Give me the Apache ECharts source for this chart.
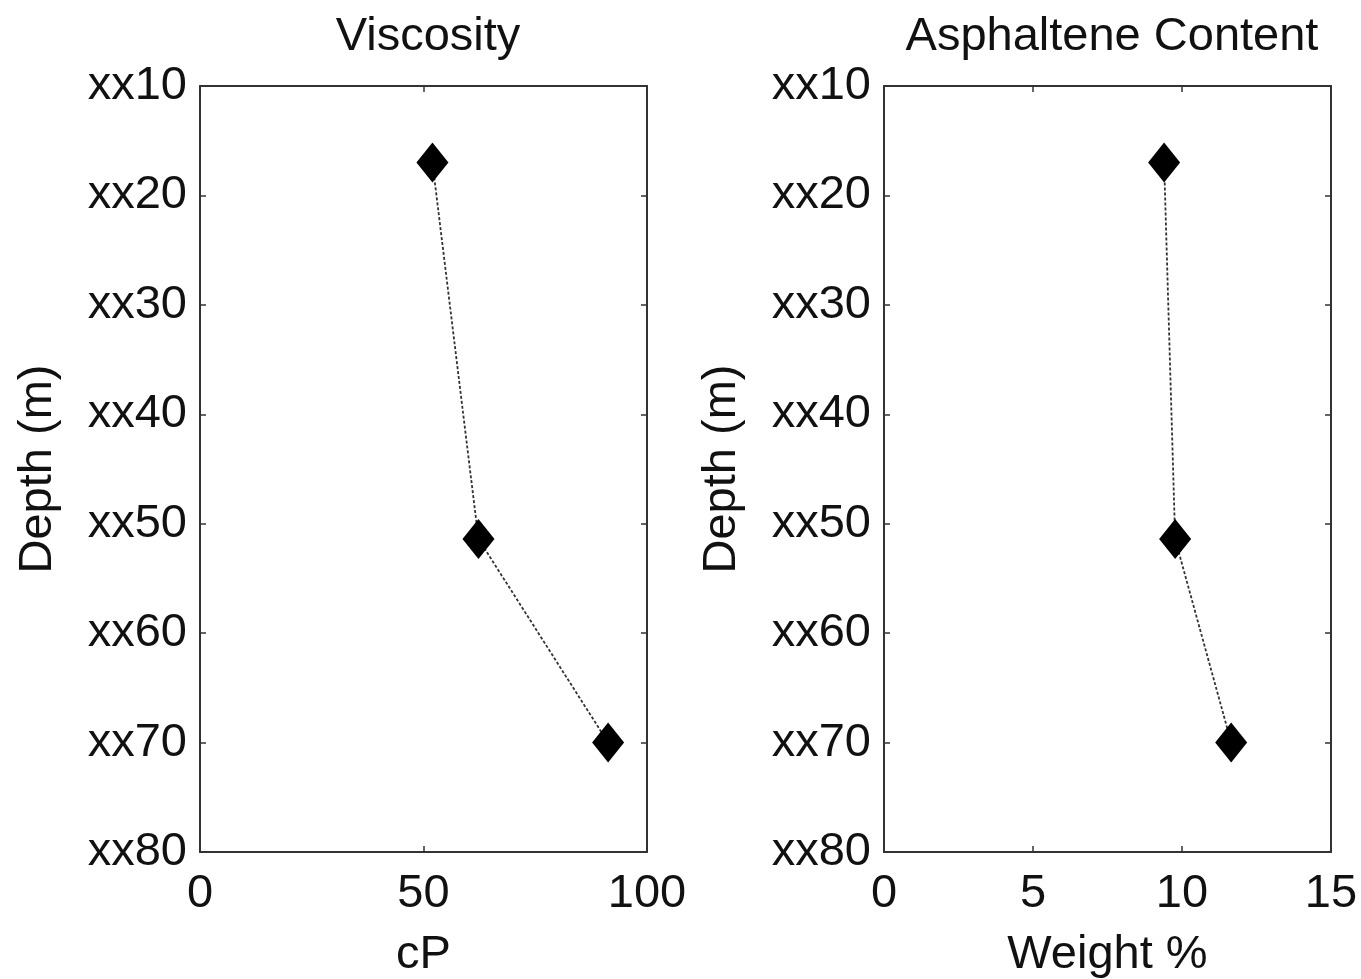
<!DOCTYPE html>
<html style="height: 100%">
<head>
<meta charset="utf-8">
</head>
<body style="height: 100%; margin: 0; background: #fff">
<div id="container" style="width:1361px;height:979px;"></div>
<script src="https://cdn.jsdelivr.net/npm/echarts@6/dist/echarts.min.js"></script>
<script type="text/javascript">
// depths are the "xx" offsets in metres
var depth = [17, 51.4, 70];
var viscosity = [52, 62.3, 91.3];
var asphaltene = [9.4, 9.77, 11.65];
var depthTicks = [10, 20, 30, 40, 50, 60, 70, 80];
var viscTicks = [0, 50, 100];
var asphTicks = [0, 5, 10, 15];

var myChart = echarts.init(document.getElementById('container'));
var font = 'Liberation Sans, Arial, sans-serif';
var axisCol = '#333';
var fs = 47;

function pairs(xs, ys) {
    var out = [];
    for (var i = 0; i < xs.length; i++) out.push([xs[i], ys[i]]);
    return out;
}

function xAx(grid, ticks, name, show) {
    return {
        type: 'value', gridIndex: grid, position: show ? 'bottom' : 'top',
        min: ticks[0], max: ticks[ticks.length - 1], interval: ticks[1] - ticks[0],
        name: show ? name : '', nameLocation: 'middle', nameGap: 80,
        nameTextStyle: {fontFamily: font, fontSize: fs, color: '#111'},
        axisLine: {show: true, onZero: false, lineStyle: {color: axisCol, width: 2}},
        axisTick: {show: true, inside: true, length: 6, lineStyle: {color: axisCol, width: 1.5}},
        axisLabel: {show: show, fontFamily: font, fontSize: fs, color: '#111', margin: 19},
        splitLine: {show: false}
    };
}

function yAx(grid, show) {
    return {
        type: 'value', gridIndex: grid, position: show ? 'left' : 'right', inverse: true,
        min: depthTicks[0], max: depthTicks[depthTicks.length - 1], interval: 10,
        name: show ? 'Depth (m)' : '', nameLocation: 'middle', nameGap: 138, nameRotate: 90,
        nameTextStyle: {fontFamily: font, fontSize: fs, color: '#111'},
        axisLine: {show: true, onZero: false, lineStyle: {color: axisCol, width: 2}},
        axisTick: {show: true, inside: true, length: 6, lineStyle: {color: axisCol, width: 1.5}},
        axisLabel: {show: show, fontFamily: font, fontSize: fs, color: '#111', margin: 13,
            formatter: function (v) { return 'xx' + v; }},
        splitLine: {show: false}
    };
}

function series(grid, xs) {
    return {
        type: 'line', xAxisIndex: grid * 2, yAxisIndex: grid * 2,
        data: pairs(xs, depth),
        symbol: 'diamond', symbolSize: [32, 40],
        itemStyle: {color: '#000'},
        lineStyle: {color: '#333', width: 1.8, type: [3, 2]},
        animation: false
    };
}

var option = {
    title: [
        {text: 'Viscosity', left: 423, top: 9, textAlign: 'center',
            textStyle: {fontFamily: font, fontSize: fs, fontWeight: 'normal', color: '#111'}},
        {text: 'Asphaltene Content', left: 1107, top: 9, textAlign: 'center',
            textStyle: {fontFamily: font, fontSize: fs, fontWeight: 'normal', color: '#111'}}
    ],
    grid: [
        {left: 200, top: 86, width: 447, height: 766, outerBoundsMode: 'none', containLabel: false},
        {left: 884, top: 86, width: 447, height: 766, outerBoundsMode: 'none', containLabel: false}
    ],
    xAxis: [
        xAx(0, viscTicks, 'cP', true), xAx(0, viscTicks, '', false),
        xAx(1, asphTicks, 'Weight %', true), xAx(1, asphTicks, '', false)
    ],
    yAxis: [
        yAx(0, true), yAx(0, false),
        yAx(1, true), yAx(1, false)
    ],
    series: [series(0, viscosity), series(1, asphaltene)]
};
myChart.setOption(option);
</script>
</body>
</html>
